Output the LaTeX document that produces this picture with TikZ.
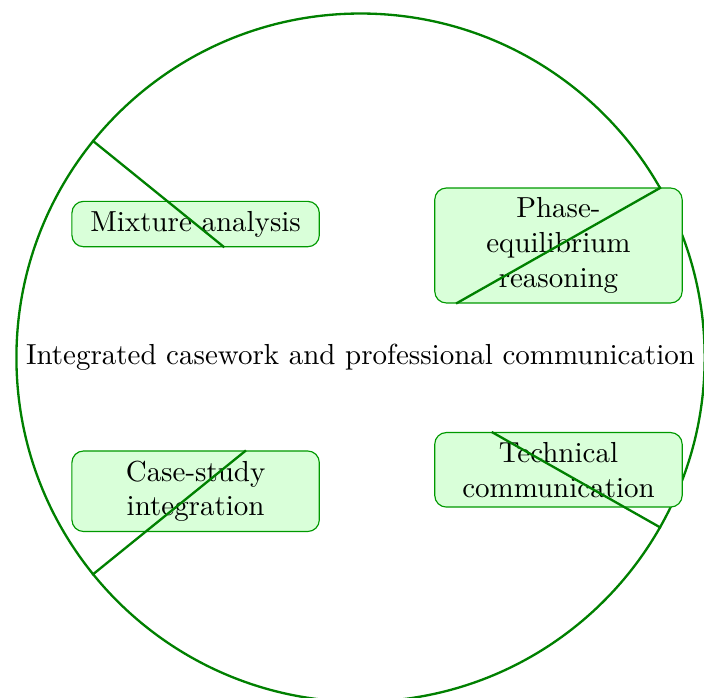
\documentclass[tikz,border=0pt]{standalone}
\usepackage{tikz}
\usepackage{xcolor}

\tikzset{
  hub/.style={circle, draw=green!50!black, thick},
  topic/.style={rectangle, rounded corners, draw=green!60!black, fill=green!15, minimum width=3cm, align=center},
  link/.style={draw=green!50!black, thick}
}

\begin{document}
\begin{tikzpicture}
\useasboundingbox (-124.4pt,-117.1pt) rectangle (118.5pt,123.4pt);
\node[hub] (root) at (0,0) {Integrated casework and professional communication};

\node[topic] (mix) at (-2.0,1.62) {Mixture analysis};
\node[topic] (phase) at (2.4,1.36) {Phase-\\equilibrium\\reasoning};
\node[topic] (case) at (-2.0,-1.62) {Case-study\\integration};
\node[topic] (tech) at (2.4,-1.36) {Technical\\communication};

\draw[link] (root) -- (mix);
\draw[link] (root) -- (phase);
\draw[link] (root) -- (case);
\draw[link] (root) -- (tech);

\end{tikzpicture}
\end{document}
